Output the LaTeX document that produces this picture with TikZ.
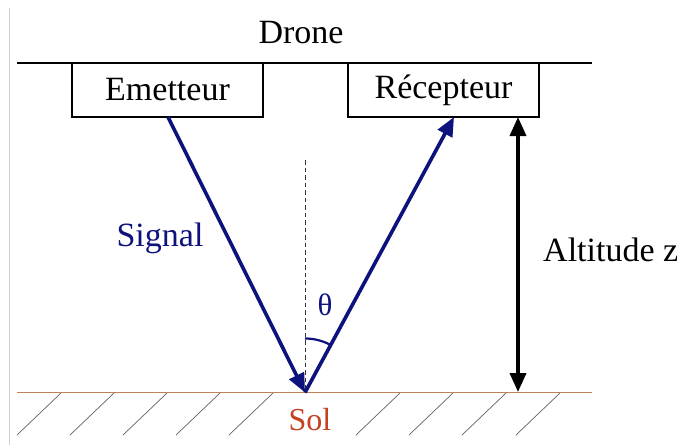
\documentclass[tikz,border=0pt]{standalone}
\usepackage{fontspec}
\setmainfont{Liberation Serif}
\usetikzlibrary{arrows.meta}
\definecolor{navy}{RGB}{14,18,125}
\definecolor{soil}{RGB}{192,128,90}
\definecolor{soltext}{RGB}{196,66,32}
\definecolor{hatchc}{RGB}{110,95,85}
\tikzset{
  lbl/.style={font=\fontsize{34}{40}\selectfont, inner sep=0pt},
  unit/.style={draw, line width=1.4pt, minimum width=191pt, minimum height=54pt,
    inner sep=0pt, font=\fontsize{34}{40}\selectfont},
  ray/.style={navy, line width=3.6pt, -{Triangle[length=19pt,width=16pt]}},
  hatchline/.style={hatchc, line width=0.7pt},
}
\begin{document}
\begin{tikzpicture}[x=1pt,y=-1pt]
\useasboundingbox (0,0) rectangle (678,445);
\fill[white] (0,0) rectangle (678,445);
% faint frame edge on the left
\draw[black!18, line width=0.8pt] (9,8) -- (9,445);

% platform line and title
\coordinate (topL) at (17,63);
\coordinate (topR) at (592,63);
\draw[line width=1.4pt] (topL) -- (topR);
\node[lbl] (drone) at (301,33) {Drone};

% emitter and receiver boxes
\node[unit, fill=white] (emit) at (167.5,90) {Emetteur};
\node[unit, fill=white] (recv) at (443.5,90) {Récepteur};

% ground
\coordinate (gndL) at (17,392.5);
\coordinate (gndR) at (592,392.5);
\coordinate (P) at (305,392.5);
\foreach \x in {61,114,167,220,273,400,453,506,560}
  \draw[hatchline] (\x,393) -- (\x-44,435);
\draw[soil, line width=1.6pt] (gndL) -- (gndR);
\node[lbl, text=soltext, font=\fontsize{32}{38}\selectfont] (sol) at (310,420) {Sol};

% normal to the ground
\coordinate (nTop) at (305,160);
\draw[black!80, line width=0.9pt, dash pattern=on 4.5pt off 3pt] (nTop) -- (P);

% incident and reflected rays
\coordinate (eOut) at (168,117);
\coordinate (rIn) at (454,117);
\draw[ray] (eOut) -- (P);
\draw[ray] (P) -- (rIn);
\node[lbl, text=navy] (sig) at (160,238) {Signal};

% angle of incidence
\draw[navy, line width=2.2pt] (P) ++(0,-54) arc[start angle=-90, end angle=-61.5, radius=54];
\node[lbl, text=navy, font=\fontsize{31}{36}\selectfont] (theta) at (325,305) {θ};

% altitude
\coordinate (aTop) at (518,117);
\coordinate (aBot) at (518,392);
\draw[line width=3.6pt, {Triangle[length=19pt,width=16pt]}-{Triangle[length=19pt,width=16pt]}] (aTop) -- (aBot);
\node[lbl, anchor=west] (alt) at (543,250) {Altitude z};
\end{tikzpicture}
\end{document}
